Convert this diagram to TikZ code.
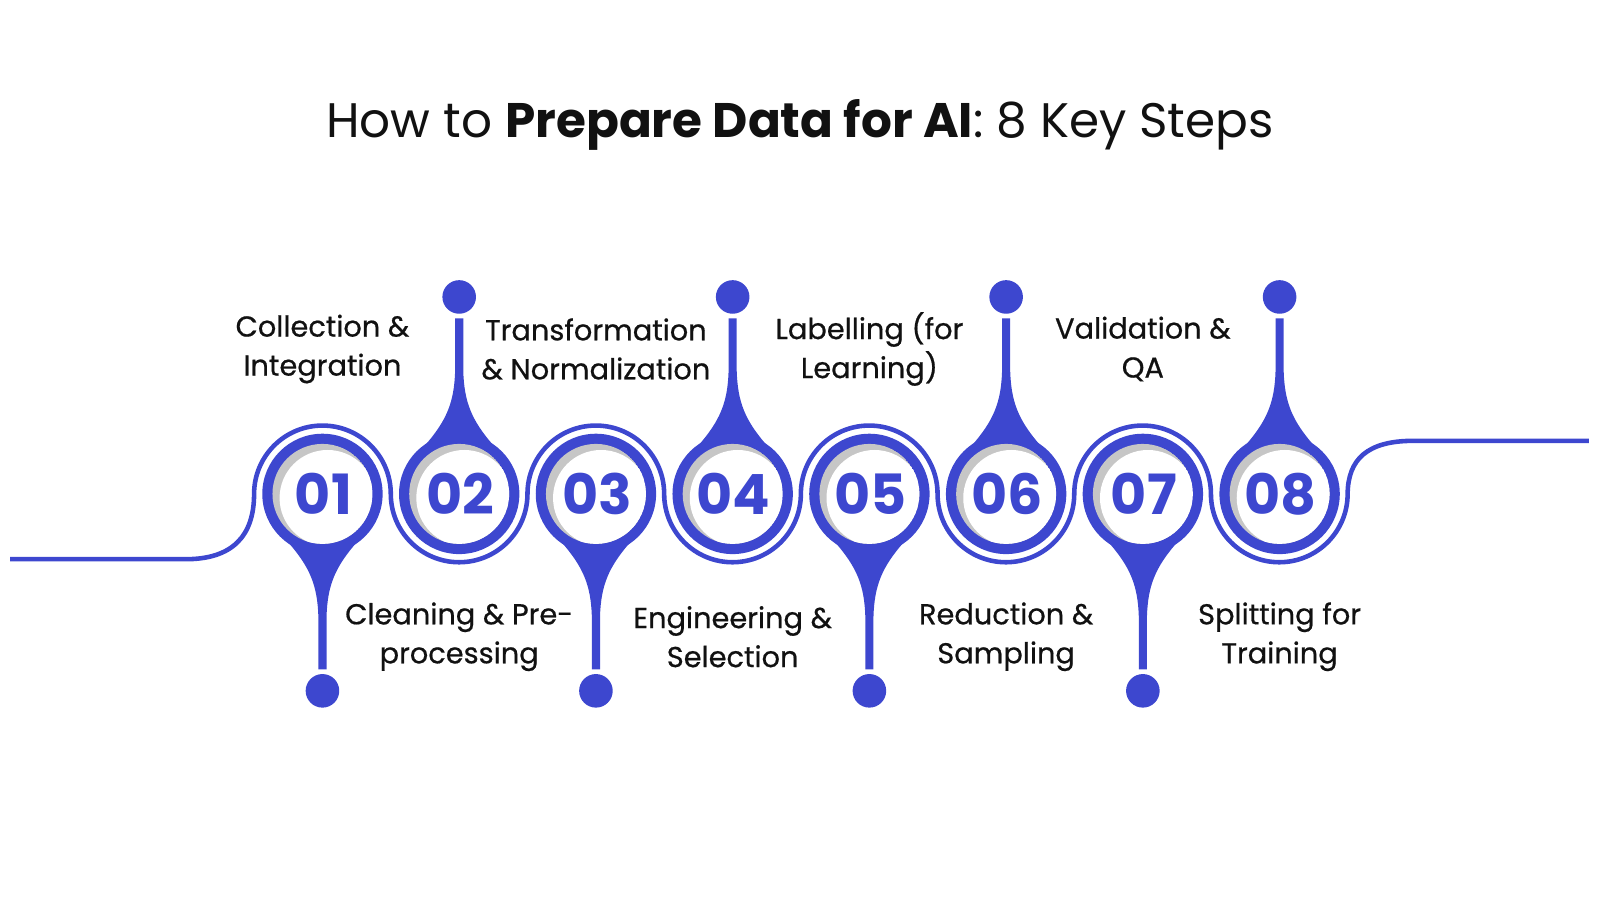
\documentclass[tikz,border=0pt]{standalone}
\usepackage{fontspec}
\setmainfont{Poppins}
\newfontfamily\lblfont{Poppins}[FakeBold=0.6]
\definecolor{bl}{HTML}{3D47CF}
\definecolor{tx}{HTML}{111111}
\begin{document}
\begin{tikzpicture}[x=0.010204cm,y=-0.010204cm,
  lbl/.style={align=center,font=\lblfont\fontsize{8.2}{11.1}\selectfont,text=tx},
  num/.style={font=\fontsize{15.8}{18}\selectfont\bfseries,text=bl}]
\node[font=\fontsize{13.8}{16}\selectfont,text=tx] (title) at (784,122) {How to \textbf{Prepare Data for AI}: 8 Key Steps};
% wave
\draw[bl,line width=1.3pt] (10,548) -- (182,548) .. controls (228,548) and (249,525) .. (249,484)
  arc[start angle=180,end angle=0,radius=0.6837cm]
  arc[start angle=180,end angle=360,radius=0.6837cm]
  arc[start angle=180,end angle=0,radius=0.6837cm]
  arc[start angle=180,end angle=360,radius=0.6837cm]
  arc[start angle=180,end angle=0,radius=0.6837cm]
  arc[start angle=180,end angle=360,radius=0.6837cm]
  arc[start angle=180,end angle=0,radius=0.6837cm]
  arc[start angle=180,end angle=360,radius=0.6837cm]
  .. controls (1321,450) and (1340,432) .. (1385,432) -- (1557,432);
\foreach \i/\cx/\d in {1/316/1,2/450/-1,3/584/1,4/718/-1,5/852/1,6/986/-1,7/1120/1,8/1254/-1}{
  \fill[bl] (\cx-34,484+\d*47) .. controls (\cx-12,484+\d*72) and (\cx-5,484+\d*90) .. (\cx-4,484+\d*120)
    -- (\cx-4,484+\d*172) -- (\cx+4,484+\d*172) -- (\cx+4,484+\d*120)
    .. controls (\cx+5,484+\d*90) and (\cx+12,484+\d*72) .. (\cx+34,484+\d*47) -- cycle;
  \fill[bl] (\cx,484+\d*193) circle[radius=0.168cm];
  \fill[bl] (\cx,484+\d*177) -- (\cx-8,484+\d*185) -- (\cx+8,484+\d*185) -- cycle;
  \fill[bl] (\cx,484) circle[radius=0.602cm];
  \begin{scope}
    \clip (\cx,484) circle[radius=0.5cm];
    \fill[gray!45] (\cx,484) circle[radius=0.5cm];
    \fill[white] (\cx+5,488) circle[radius=0.48cm];
  \end{scope}
  \node[num] (n\i) at (\cx+1,484) {0\i};
}
\node[lbl] (l1) at (316,342) {Collection \&\\Integration};
\node[lbl] (l2) at (450,624) {Cleaning \& Pre-\\processing};
\node[lbl] (l3) at (584,342) {Transformation\\\& Normalization};
\node[lbl] (l4) at (718,624) {Engineering \&\\Selection};
\node[lbl] (l5) at (852,342) {Labelling (for\\Learning)};
\node[lbl] (l6) at (986,624) {Reduction \&\\Sampling};
\node[lbl] (l7) at (1120,342) {Validation \&\\QA};
\node[lbl] (l8) at (1254,624) {Splitting for\\Training};
\pgfresetboundingbox
\path[use as bounding box] (0,0) rectangle (1568,882);
\end{tikzpicture}
\end{document}
